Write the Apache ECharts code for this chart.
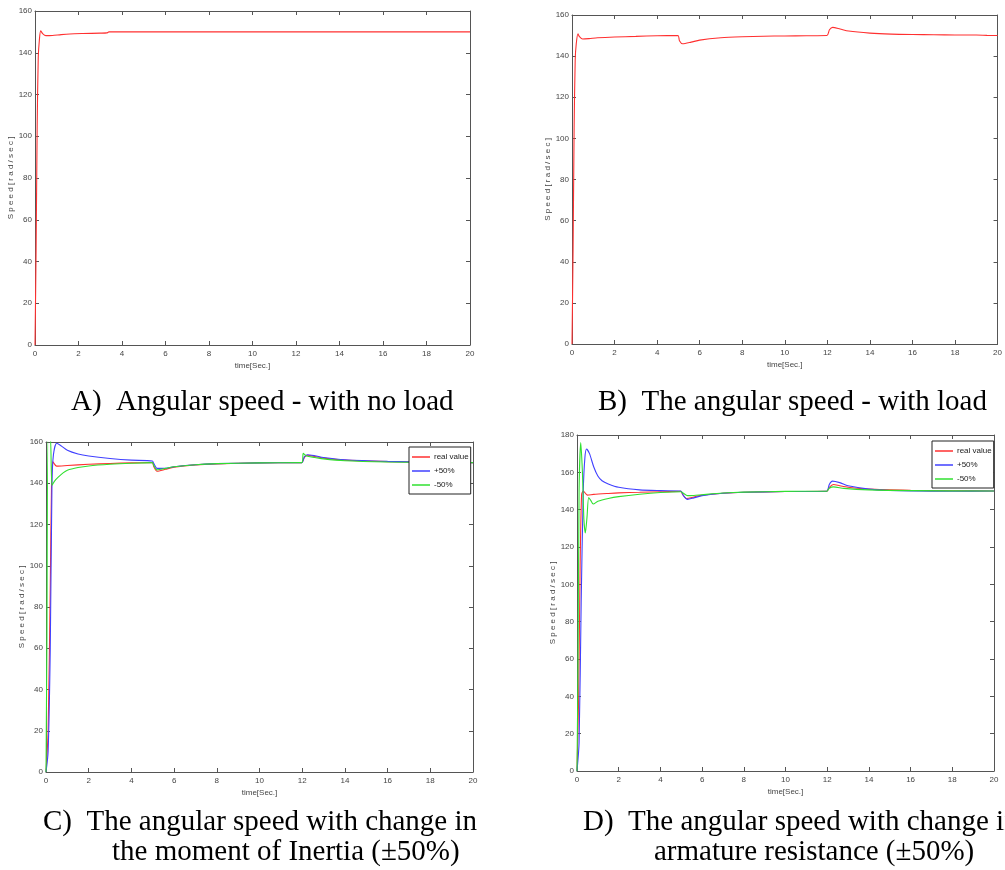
<!DOCTYPE html>
<html>
<head>
<meta charset="utf-8">
<script src="https://cdn.jsdelivr.net/npm/echarts@6/dist/echarts.min.js"></script>
<style>
html,body{margin:0;padding:0;background:#fff;}
#main{width:1005px;height:870px;}
</style>
</head>
<body>
<div id="main"></div>
<script>
/*----------data----------*/
// A) no load
var tA=[0,0.05,0.1,0.15,0.2,0.26,0.35,0.5,0.8,1.2,1.6,2.2,3.0,3.3,3.4,6,10,14,20];
var speedA=[0,45,105,138,146,150.5,149.2,148.2,148.3,148.7,149.0,149.2,149.4,149.5,150.0,150,150,150,150];
// B) with load
var tB=[0,0.05,0.1,0.15,0.2,0.28,0.35,0.5,0.8,1.2,2,3,4,4.98,5.05,5.2,5.6,6,7,8,9,10,11,11.98,12.1,12.25,12.6,13,14,15,16,17,18,19,19.5,20];
var speedB=[0,45,105,138,146,150.8,149.5,148.3,148.5,148.9,149.3,149.6,149.9,150,147.5,146,146.8,147.8,148.9,149.4,149.7,149.8,149.9,150,152.8,154,153.2,152.2,151.2,150.7,150.5,150.4,150.3,150.3,150.1,150];
// C) moment of inertia
var tCreal=[0,0.1,0.2,0.26,0.32,0.5,1,2,3,4,4.98,5.05,5.2,5.6,6,7,8,10,11.98,12.1,12.25,12.6,13,14,16,18,20];
var speedCreal=[0,20,90,140,150.4,148.3,148.6,149.2,149.6,149.9,150,148,145.8,146.8,147.8,148.9,149.4,149.9,150,152.5,153.6,153,152.2,151.2,150.5,150.2,150];
var tCplus=[0,0.1,0.2,0.28,0.35,0.5,0.7,1,1.5,2,3,4,4.98,5.05,5.2,5.6,6,7,8,10,11.98,12.1,12.25,12.6,13,14,16,18,20];
var speedCplus=[0,10,60,140,154,159.4,158.2,156,154.2,153.2,152,151.2,150.8,149.5,147.2,147.3,148,149,149.5,149.9,150,152.8,153.8,153.3,152.5,151.4,150.6,150.2,150];
var tCminus=[0,0.04,0.1,0.2,0.28,0.4,0.56,0.8,1,1.5,2,3,4,4.98,5.05,5.2,5.6,6,7,8,10,11.98,12.05,12.2,12.6,13,14,16,18,20];
var speedCminus=[0,60,163,163,139,141,142.8,145,146.3,147.6,148.4,149.2,149.7,150,148.5,146.5,147.2,148,149,149.5,149.9,150,154.5,153.2,152.5,151.8,150.9,150.3,150.1,150];
// D) armature resistance
var tDreal=[0,0.08,0.15,0.22,0.3,0.5,0.8,1.5,2,3,4,4.98,5.05,5.25,5.6,6,7,8,10,11.98,12.1,12.3,12.6,13,14,16,18,20];
var speedDreal=[0,40,110,148,150,147.8,148.2,148.7,149,149.3,149.6,149.8,148.5,146,146.8,147.8,148.8,149.3,149.7,149.8,152,153.5,152.8,152,151,150.4,150.1,150];
var tDplus=[0,0.1,0.2,0.3,0.38,0.46,0.6,0.8,1,1.2,1.5,2,3,4,4.98,5.1,5.3,5.6,6,7,8,10,11.98,12.1,12.25,12.6,13,14,15,16,18,20];
var speedDplus=[0,15,90,150,168,172.5,170,163,158,155.5,153.8,152,150.6,150.2,150,147.5,145.5,146.3,147.5,148.8,149.3,149.7,149.9,153.5,155.3,154.5,152.8,151,150.3,150,149.9,150];
var tDminus=[0,0.05,0.1,0.18,0.26,0.33,0.4,0.48,0.56,0.66,0.78,1,1.5,2,3,4,4.98,5.1,5.3,5.6,6,7,8,10,11.98,12.1,12.3,12.8,14,16,20];
var speedDminus=[0,60,150,176,160,135,127.5,136,146.5,145,143,144.5,146,147,148.3,149.2,149.6,148.8,147.5,147.6,148,148.9,149.4,149.8,149.9,151.5,152.2,151.4,150.6,150.2,150];

var legendNames=["real value","+50%","-50%"];
var xTickStep=2;
var captionsTop=["A)  Angular speed - with no load","B)  The angular speed - with load"];
var captionsC=["C)  The angular speed with change in","the moment of Inertia (\u00b150%)"];
var captionsD=["D)  The angular speed with change in","armature resistance (\u00b150%)"];

/*----------function------*/
function zip(t,v){
	var out=[];
	for(var i=0;i<t.length;i++){out.push([t[i],v[i]]);}
	return out;
}
var axisColor="#555";
function addAxes(opt,gi,ymax,yStep){	//bottom/left with labels, top/right ticks only
	var lineSet={show:true,onZero:false,lineStyle:{color:axisColor}};
	var tickSet={inside:true,length:4,lineStyle:{color:axisColor}};
	opt.xAxis.push({
		type:"value",gridIndex:gi,min:0,max:20,interval:xTickStep,position:"bottom",
		name:"time[Sec.]",nameLocation:"middle",nameGap:17,
		nameTextStyle:{fontSize:8,color:"#444",fontFamily:"Liberation Sans"},
		axisLine:lineSet,axisTick:tickSet,
		axisLabel:{fontSize:8,color:"#444",margin:5,fontFamily:"Liberation Sans"},
		splitLine:{show:false}
	});
	opt.xAxis.push({
		type:"value",gridIndex:gi,min:0,max:20,interval:xTickStep,position:"top",
		axisLine:lineSet,axisTick:tickSet,
		axisLabel:{show:false},splitLine:{show:false}
	});
	opt.yAxis.push({
		type:"value",gridIndex:gi,min:0,max:ymax,interval:yStep,position:"left",
		name:"S p e e d [ r a d / s e c ]",nameLocation:"middle",nameGap:20,
		nameTextStyle:{fontSize:8,color:"#444",fontFamily:"Liberation Sans"},
		axisLine:lineSet,axisTick:tickSet,
		axisLabel:{fontSize:8,color:"#444",margin:3,fontFamily:"Liberation Sans"},
		splitLine:{show:false}
	});
	opt.yAxis.push({
		type:"value",gridIndex:gi,min:0,max:ymax,interval:yStep,position:"right",
		axisLine:lineSet,axisTick:tickSet,
		axisLabel:{show:false},splitLine:{show:false}
	});
}
function line(name,gi,data,color){
	return {
		type:"line",name:name,xAxisIndex:gi*2,yAxisIndex:gi*2,
		data:data,showSymbol:false,symbol:"none",smooth:0.25,clip:true,
		lineStyle:{width:1.1,color:color},itemStyle:{color:color},
		animation:false
	};
}
function caption(text,x,y,align){
	return {type:"text",x:x,y:y,style:{
		text:text,fill:"#000",font:'29px "Liberation Serif"',
		textAlign:align||"left",textVerticalAlign:"middle"}};
}
function legendBox(left,top){
	return {data:legendNames,left:left,top:top,orient:"vertical",itemGap:6,itemWidth:18,itemHeight:1.5,
		icon:"rect",padding:[6,2,5,3],borderColor:"#222",borderWidth:1,backgroundColor:"#fff",
		textStyle:{fontSize:8,color:"#222",fontFamily:"Liberation Sans",padding:[0,0,0,-1]}};
}
function charts(){
	var chart=echarts.init(document.getElementById("main"),null,{renderer:"canvas"});
	var red="#ff3030",blue="#4040ff",green="#30e030";
	var option={
		animation:false,
		backgroundColor:"#fff",
		grid:[
			{left:35,top:11,width:435,height:334},
			{left:572,top:15,width:429,height:329},
			{left:46,top:442,width:427,height:330},
			{left:577,top:435,width:417,height:336}
		],
		xAxis:[],yAxis:[],
		legend:[legendBox(409,447),legendBox(932,441)],
		series:[
			line("speed no load",0,zip(tA,speedA),red),
			line("speed with load",1,zip(tB,speedB),red),
			line(legendNames[0],2,zip(tCreal,speedCreal),red),
			line(legendNames[1],2,zip(tCplus,speedCplus),blue),
			line(legendNames[2],2,zip(tCminus,speedCminus),green),
			line(legendNames[0],3,zip(tDreal,speedDreal),red),
			line(legendNames[1],3,zip(tDplus,speedDplus),blue),
			line(legendNames[2],3,zip(tDminus,speedDminus),green)
		],
		graphic:[
			caption(captionsTop[0],71,402),
			caption(captionsTop[1],598,402),
			caption(captionsC[0],43,822),
			caption(captionsC[1],112,852),
			caption(captionsD[0],583,822),
			caption(captionsD[1],654,852)
		]
	};
	addAxes(option,0,160,20);
	addAxes(option,1,160,20);
	addAxes(option,2,160,20);
	addAxes(option,3,180,20);
	chart.setOption(option);
}
charts();
</script>
</body>
</html>
